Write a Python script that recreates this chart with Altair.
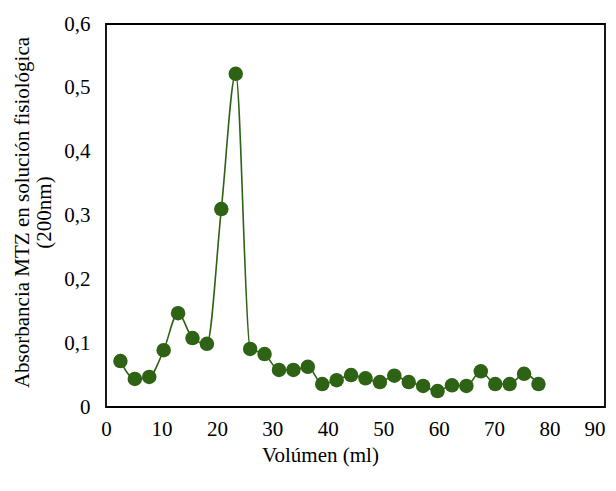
import altair as alt
import pandas as pd

volumen = [2.6, 5.2, 7.8, 10.4, 13.0, 15.6, 18.2, 20.8, 23.4, 26.0,
           28.6, 31.2, 33.8, 36.4, 39.0, 41.6, 44.2, 46.8, 49.4, 52.0,
           54.6, 57.2, 59.8, 62.4, 65.0, 67.6, 70.2, 72.8, 75.4, 78.0]
absorbancia = [0.072, 0.044, 0.047, 0.089, 0.147, 0.108, 0.099, 0.310, 0.522, 0.091,
               0.083, 0.058, 0.058, 0.063, 0.036, 0.042, 0.050, 0.045, 0.039, 0.049,
               0.039, 0.033, 0.025, 0.034, 0.033, 0.056, 0.036, 0.036, 0.052, 0.036]
x_ticks = [0, 10, 20, 30, 40, 50, 60, 70, 80, 90]
y_ticks = [0, 0.1, 0.2, 0.3, 0.4, 0.5, 0.6]

df = pd.DataFrame({"x": volumen, "y": absorbancia})

FONT = "Liberation Serif"
GREEN = "#2e6214"
FS = 21

x = alt.X("x:Q", scale=alt.Scale(domain=[0, 90], nice=False, zero=True),
          axis=alt.Axis(values=x_ticks, title="Volúmen (ml)",
                        grid=False, ticks=False, domain=False,
                        labelFont=FONT, labelFontSize=FS, labelColor="#000",
                        labelPadding=11, labelFlush=False,
                        labelAlign={"condition": {"test": "datum.value == 90", "value": "right"},
                                    "value": "center"},
                        titleFont=FONT, titleFontSize=FS, titleFontWeight="normal",
                        titleColor="#000", titleX=214, titleY=48,
                        titleBaseline="middle", titleAlign="center"))
y = alt.Y("y:Q", scale=alt.Scale(domain=[0, 0.6], nice=False),
          axis=alt.Axis(values=y_ticks,
                        labelExpr="datum.value == 0 ? '0' : replace(format(datum.value, '.1f'), '.', ',')",
                        title=["Absorbancia MTZ en solución fisiológica", "(200nm)"],
                        grid=False, ticks=False, domain=False,
                        labelFont=FONT, labelFontSize=FS, labelColor="#000",
                        labelPadding=16, labelFlush=False,
                        titleFont=FONT, titleFontSize=FS, titleFontWeight="normal",
                        titleColor="#000", titleLineHeight=22, titleAngle=-90,
                        titleX=-84, titleY=188, titleBaseline="middle",
                        titleAlign="center"))

base = alt.Chart(df)
line = base.mark_line(color=GREEN, strokeWidth=1.6, interpolate="monotone").encode(x=x, y=y)
pts = base.mark_circle(color=GREEN, opacity=1, size=210).encode(x=x, y=y)

chart = (line + pts).properties(
    width=499, height=383,
    background="white",
    autosize=alt.AutoSizeParams(type="none"),
    padding={"left": 98, "top": 16, "right": 3, "bottom": 60},
).configure_view(stroke="#000", strokeWidth=1.8)

chart.save("out.html", embed_options={"renderer": "svg", "actions": False})
